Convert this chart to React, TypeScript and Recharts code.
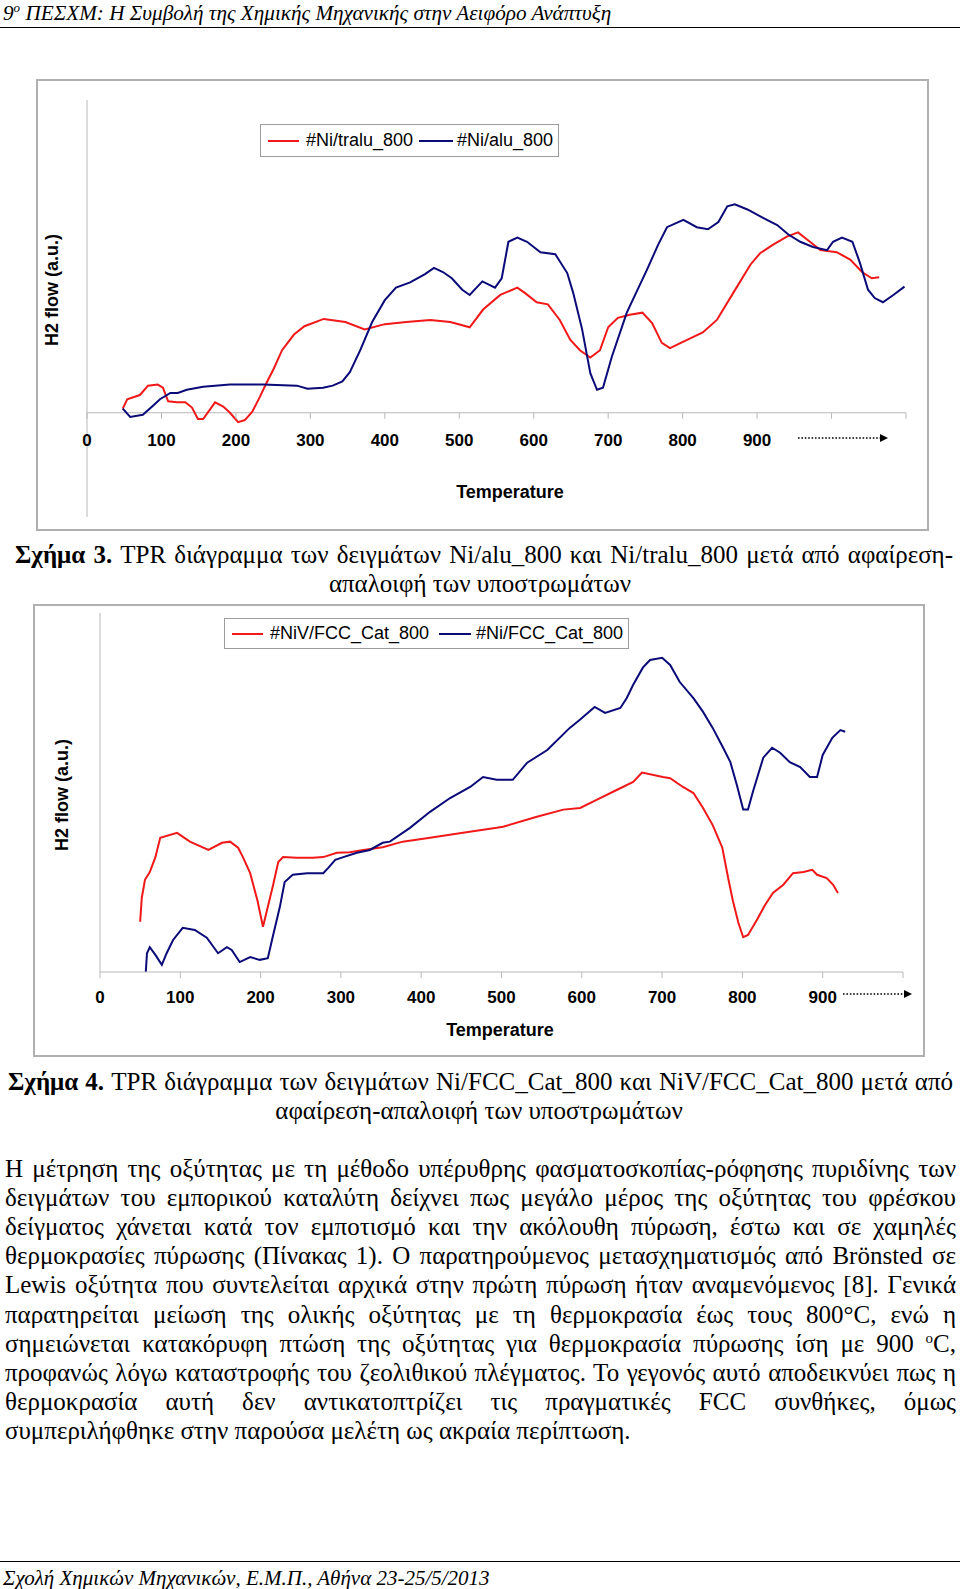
import React from 'react';
import { LineChart, Line, XAxis, YAxis, ReferenceLine } from 'recharts';

// ---------------- Figure 3 data ----------------
const fig3Names = ['#Ni/tralu_800', '#Ni/alu_800'];
const fig3XTicks = [0, 100, 200, 300, 400, 500, 600, 700, 800, 900, 1000, 1100];
const fig3XLabels = [0, 100, 200, 300, 400, 500, 600, 700, 800, 900];
const fig3YTicks = [-1, 0, 1, 2, 3];

const niTralu800 = [
  { t: 48, v: 0.04 }, { t: 54, v: 0.13 }, { t: 71, v: 0.17 }, { t: 82, v: 0.26 }, { t: 95, v: 0.27 },
  { t: 102, v: 0.24 }, { t: 109, v: 0.11 }, { t: 121, v: 0.1 }, { t: 132, v: 0.1 }, { t: 141, v: 0.05 },
  { t: 149, v: -0.06 }, { t: 156, v: -0.06 }, { t: 172, v: 0.1 }, { t: 183, v: 0.06 }, { t: 192, v: 0.0 },
  { t: 203, v: -0.09 }, { t: 212, v: -0.07 }, { t: 222, v: 0.01 }, { t: 232, v: 0.15 }, { t: 242, v: 0.3 },
  { t: 250, v: 0.41 }, { t: 262, v: 0.6 }, { t: 278, v: 0.75 }, { t: 292, v: 0.83 }, { t: 318, v: 0.9 },
  { t: 347, v: 0.87 }, { t: 373, v: 0.8 }, { t: 400, v: 0.85 }, { t: 429, v: 0.87 }, { t: 461, v: 0.89 },
  { t: 488, v: 0.87 }, { t: 514, v: 0.82 }, { t: 532, v: 0.99 }, { t: 555, v: 1.13 }, { t: 578, v: 1.2 },
  { t: 588, v: 1.15 }, { t: 604, v: 1.06 }, { t: 619, v: 1.04 }, { t: 635, v: 0.89 }, { t: 649, v: 0.7 },
  { t: 662, v: 0.6 }, { t: 676, v: 0.53 }, { t: 689, v: 0.6 }, { t: 700, v: 0.82 }, { t: 713, v: 0.91 },
  { t: 729, v: 0.94 }, { t: 746, v: 0.96 }, { t: 759, v: 0.86 }, { t: 772, v: 0.67 }, { t: 783, v: 0.62 },
  { t: 806, v: 0.7 }, { t: 827, v: 0.77 }, { t: 846, v: 0.89 }, { t: 868, v: 1.15 }, { t: 891, v: 1.42 },
  { t: 904, v: 1.53 }, { t: 921, v: 1.61 }, { t: 940, v: 1.69 }, { t: 955, v: 1.73 }, { t: 971, v: 1.64 },
  { t: 985, v: 1.56 }, { t: 1007, v: 1.54 }, { t: 1025, v: 1.47 }, { t: 1041, v: 1.35 }, { t: 1054, v: 1.29 },
  { t: 1064, v: 1.3 },
];

const niAlu800 = [
  { t: 48, v: 0.04 }, { t: 58, v: -0.04 }, { t: 75, v: -0.02 }, { t: 89, v: 0.07 }, { t: 98, v: 0.13 },
  { t: 112, v: 0.19 }, { t: 122, v: 0.19 }, { t: 134, v: 0.22 }, { t: 156, v: 0.25 }, { t: 192, v: 0.27 },
  { t: 236, v: 0.27 }, { t: 282, v: 0.26 }, { t: 296, v: 0.23 }, { t: 317, v: 0.24 }, { t: 330, v: 0.26 },
  { t: 343, v: 0.3 }, { t: 353, v: 0.39 }, { t: 367, v: 0.6 }, { t: 383, v: 0.87 }, { t: 400, v: 1.08 },
  { t: 415, v: 1.2 }, { t: 434, v: 1.25 }, { t: 454, v: 1.33 }, { t: 466, v: 1.39 }, { t: 478, v: 1.35 },
  { t: 490, v: 1.29 }, { t: 504, v: 1.18 }, { t: 514, v: 1.13 }, { t: 531, v: 1.26 }, { t: 548, v: 1.2 },
  { t: 557, v: 1.29 }, { t: 566, v: 1.64 }, { t: 578, v: 1.68 }, { t: 591, v: 1.64 }, { t: 609, v: 1.54 },
  { t: 629, v: 1.52 }, { t: 645, v: 1.34 }, { t: 653, v: 1.15 }, { t: 665, v: 0.8 }, { t: 676, v: 0.38 },
  { t: 685, v: 0.22 }, { t: 693, v: 0.24 }, { t: 705, v: 0.54 }, { t: 725, v: 0.96 }, { t: 752, v: 1.37 },
  { t: 767, v: 1.61 }, { t: 779, v: 1.78 }, { t: 801, v: 1.85 }, { t: 819, v: 1.78 }, { t: 834, v: 1.76 },
  { t: 848, v: 1.83 }, { t: 860, v: 1.98 }, { t: 870, v: 2.0 }, { t: 887, v: 1.95 }, { t: 908, v: 1.87 },
  { t: 927, v: 1.8 }, { t: 942, v: 1.71 }, { t: 958, v: 1.64 }, { t: 975, v: 1.59 }, { t: 994, v: 1.56 },
  { t: 1002, v: 1.64 }, { t: 1014, v: 1.68 }, { t: 1028, v: 1.64 }, { t: 1038, v: 1.44 }, { t: 1049, v: 1.18 },
  { t: 1058, v: 1.1 }, { t: 1069, v: 1.06 }, { t: 1083, v: 1.13 }, { t: 1098, v: 1.21 },
];

// ---------------- Figure 4 data ----------------
const fig4Names = ['#NiV/FCC_Cat_800', '#Ni/FCC_Cat_800'];
const fig4XTicks = [0, 100, 200, 300, 400, 500, 600, 700, 800, 900, 1000];
const fig4XLabels = [0, 100, 200, 300, 400, 500, 600, 700, 800, 900];
const fig4YTicks = [0, 1, 2, 3, 4, 5, 6];

const niVFcc800 = [
  { t: 50, v: 0.91 }, { t: 52, v: 1.34 }, { t: 56, v: 1.67 }, { t: 62, v: 1.81 }, { t: 69, v: 2.08 },
  { t: 75, v: 2.43 }, { t: 96, v: 2.52 }, { t: 112, v: 2.36 }, { t: 135, v: 2.21 }, { t: 152, v: 2.34 },
  { t: 162, v: 2.36 }, { t: 172, v: 2.25 }, { t: 178, v: 2.08 }, { t: 187, v: 1.79 }, { t: 196, v: 1.3 },
  { t: 203, v: 0.82 }, { t: 209, v: 1.18 }, { t: 215, v: 1.54 }, { t: 222, v: 1.99 }, { t: 228, v: 2.08 },
  { t: 245, v: 2.07 }, { t: 265, v: 2.07 }, { t: 278, v: 2.08 }, { t: 295, v: 2.16 }, { t: 311, v: 2.17 },
  { t: 328, v: 2.21 }, { t: 352, v: 2.26 }, { t: 377, v: 2.36 }, { t: 411, v: 2.43 }, { t: 452, v: 2.52 },
  { t: 494, v: 2.61 }, { t: 502, v: 2.63 }, { t: 544, v: 2.81 }, { t: 577, v: 2.94 }, { t: 598, v: 2.97 },
  { t: 619, v: 3.12 }, { t: 644, v: 3.3 }, { t: 664, v: 3.44 }, { t: 675, v: 3.61 }, { t: 701, v: 3.53 },
  { t: 710, v: 3.51 }, { t: 726, v: 3.35 }, { t: 739, v: 3.24 }, { t: 751, v: 2.97 }, { t: 763, v: 2.66 },
  { t: 775, v: 2.25 }, { t: 782, v: 1.72 }, { t: 788, v: 1.3 }, { t: 795, v: 0.89 }, { t: 801, v: 0.63 },
  { t: 807, v: 0.67 }, { t: 818, v: 0.94 }, { t: 828, v: 1.21 }, { t: 838, v: 1.43 }, { t: 851, v: 1.58 },
  { t: 863, v: 1.79 }, { t: 876, v: 1.81 }, { t: 887, v: 1.85 }, { t: 893, v: 1.76 }, { t: 905, v: 1.7 },
  { t: 913, v: 1.58 }, { t: 919, v: 1.43 },
];

const niFcc800 = [
  { t: 57, v: 0.0 }, { t: 58.5, v: 0.34 }, { t: 62, v: 0.45 }, { t: 69, v: 0.31 }, { t: 77, v: 0.13 },
  { t: 83, v: 0.34 }, { t: 91, v: 0.58 }, { t: 103, v: 0.8 }, { t: 118, v: 0.76 }, { t: 133, v: 0.62 },
  { t: 147, v: 0.34 }, { t: 158, v: 0.45 }, { t: 164, v: 0.4 }, { t: 174, v: 0.18 }, { t: 187, v: 0.27 },
  { t: 199, v: 0.22 }, { t: 209, v: 0.25 }, { t: 215, v: 0.63 }, { t: 224, v: 1.18 }, { t: 230, v: 1.63 },
  { t: 240, v: 1.76 }, { t: 258, v: 1.79 }, { t: 278, v: 1.79 }, { t: 284, v: 1.88 }, { t: 293, v: 2.03 },
  { t: 303, v: 2.08 }, { t: 320, v: 2.16 }, { t: 336, v: 2.21 }, { t: 352, v: 2.34 }, { t: 361, v: 2.36 },
  { t: 386, v: 2.61 }, { t: 411, v: 2.9 }, { t: 436, v: 3.15 }, { t: 461, v: 3.35 }, { t: 477, v: 3.53 },
  { t: 494, v: 3.48 }, { t: 514, v: 3.48 }, { t: 532, v: 3.79 }, { t: 557, v: 4.02 }, { t: 585, v: 4.42 },
  { t: 598, v: 4.57 }, { t: 616, v: 4.8 }, { t: 629, v: 4.69 }, { t: 648, v: 4.78 }, { t: 656, v: 4.96 },
  { t: 664, v: 5.2 }, { t: 676, v: 5.51 }, { t: 685, v: 5.65 }, { t: 700, v: 5.69 }, { t: 710, v: 5.56 },
  { t: 722, v: 5.25 }, { t: 739, v: 4.96 }, { t: 751, v: 4.71 }, { t: 763, v: 4.42 }, { t: 776, v: 4.06 },
  { t: 785, v: 3.8 }, { t: 793, v: 3.39 }, { t: 801, v: 2.94 }, { t: 807, v: 2.94 }, { t: 813, v: 3.26 },
  { t: 826, v: 3.88 }, { t: 837, v: 4.06 }, { t: 847, v: 3.97 }, { t: 859, v: 3.8 }, { t: 872, v: 3.71 },
  { t: 884, v: 3.53 }, { t: 893, v: 3.53 }, { t: 900, v: 3.93 }, { t: 912, v: 4.24 }, { t: 922, v: 4.38 },
  { t: 928, v: 4.35 },
];

// ---------------- Text ----------------
const headerText = ' ΠΕΣΧΜ: Η Συμβολή της Χημικής Μηχανικής στην Αειφόρο Ανάπτυξη';
const footerText = 'Σχολή Χημικών Μηχανικών, Ε.Μ.Π., Αθήνα 23-25/5/2013';
const cap3Line1 = ' TPR διάγραμμα των δειγμάτων Ni/alu_800 και Ni/tralu_800 μετά από αφαίρεση-';
const cap3Line2 = 'απαλοιφή των υποστρωμάτων';
const cap4Line1 = ' TPR διάγραμμα των δειγμάτων Ni/FCC_Cat_800 και NiV/FCC_Cat_800 μετά από';
const cap4Line2 = 'αφαίρεση-απαλοιφή των υποστρωμάτων';
const bodyLines = [
  'Η μέτρηση της οξύτητας με τη μέθοδο υπέρυθρης φασματοσκοπίας-ρόφησης πυριδίνης των',
  'δειγμάτων του εμπορικού καταλύτη δείχνει πως μεγάλο μέρος της οξύτητας του φρέσκου',
  'δείγματος χάνεται κατά τον εμποτισμό και την ακόλουθη πύρωση, έστω και σε χαμηλές',
  'θερμοκρασίες πύρωσης (Πίνακας 1). Ο παρατηρούμενος μετασχηματισμός από Brönsted σε',
  'Lewis οξύτητα που συντελείται αρχικά στην πρώτη πύρωση ήταν αναμενόμενος [8]. Γενικά',
  'παρατηρείται μείωση της ολικής οξύτητας με τη θερμοκρασία έως τους 800°C, ενώ η',
  'σημειώνεται κατακόρυφη πτώση της οξύτητας για θερμοκρασία πύρωσης ίση με 900 ^oC,',
  'προφανώς λόγω καταστροφής του ζεολιθικού πλέγματος. Το γεγονός αυτό αποδεικνύει πως η',
  'θερμοκρασία αυτή δεν αντικατοπτρίζει τις πραγματικές FCC συνθήκες, όμως',
  'συμπεριλήφθηκε στην παρούσα μελέτη ως ακραία περίπτωση.',
];

// ---------------- Styles ----------------
const RED = '#f01818';
const NAVY = '#0a0a78';
const AXIS = '#b8b8b8';
const FRAME = '#b0b0b0';
const SANS = '"Liberation Sans", Arial, sans-serif';
const SERIF = '"Liberation Serif", "Times New Roman", serif';

// Figure 3 chart geometry
const F3_W = 960, F3_H = 560;
const F3_M = { top: 100, left: 67, right: 54, bottom: 13 };
const F3_XH = 30, F3_YW = 20;
const F3_YMIN = -1, F3_YMAX = 3;
const F3_PLOT_H = F3_H - F3_M.top - F3_M.bottom - F3_XH;
const F3_AXIS_Y = F3_M.top + (F3_PLOT_H * (F3_YMAX - 0)) / (F3_YMAX - F3_YMIN);

// Figure 4 chart geometry
const F4_TOP = 560;
const F4_W = 960, F4_H = 500;
const F4_M = { top: 53, left: 80, right: 57, bottom: 28 };
const F4_XH = 60, F4_YW = 20;
const F4_AXIS_Y = F4_H - F4_M.bottom - F4_XH;

function Fig3Tick(props: any) {
  const { x, payload } = props;
  const v = payload.value;
  return (
    <g>
      <line x1={x} x2={x} y1={F3_AXIS_Y} y2={F3_AXIS_Y + 6} stroke={AXIS} strokeWidth={1} />
      {fig3XLabels.includes(v) && (
        <text x={x} y={F3_AXIS_Y + 28} textAnchor="middle" dominantBaseline="central"
          fontFamily={SANS} fontWeight="bold" fontSize={17} fill="#000">{v}</text>
      )}
    </g>
  );
}

function Fig4Tick(props: any) {
  const { x, payload } = props;
  const v = payload.value;
  if (!fig4XLabels.includes(v)) return <g />;
  return (
    <text x={x} y={F4_AXIS_Y + 25} textAnchor="middle" dominantBaseline="central"
      fontFamily={SANS} fontWeight="bold" fontSize={17} fill="#000">{v}</text>
  );
}

function LegendBox(props: { left: number; top: number; width: number; height: number; items: { name: string; color: string; segX: number; segW: number; textX: number }[] }) {
  const { left, top, width, height, items } = props;
  return (
    <div style={{ position: 'absolute', left, top, width, height, border: '1px solid #9c9c9c', boxSizing: 'border-box', background: '#fff' }}>
      {items.map((it) => (
        <React.Fragment key={it.name}>
          <div style={{ position: 'absolute', left: it.segX - left, top: height / 2 - 2, width: it.segW, height: 2, background: it.color }} />
          <div style={{ position: 'absolute', left: it.textX - left, top: 0, height: height - 2, lineHeight: `${height - 2}px`, fontFamily: SANS, fontSize: 18, color: '#000', whiteSpace: 'nowrap' }}>{it.name}</div>
        </React.Fragment>
      ))}
    </div>
  );
}

function Arrow(props: { x1: number; x2: number; y: number }) {
  const { x1, x2, y } = props;
  return (
    <g>
      <line x1={x1} x2={x2 - 6} y1={y} y2={y} stroke="#000" strokeWidth={1.6} strokeDasharray="1.6 1.8" />
      <polygon points={`${x2},${y} ${x2 - 8},${y - 4} ${x2 - 8},${y + 4}`} fill="#000" />
    </g>
  );
}

function JLine(props: { left: number; width: number; centerY: number; size: number; justify?: boolean; center?: boolean; children: React.ReactNode }) {
  const { left, width, centerY, size, justify, center, children } = props;
  const lh = 28;
  return (
    <div style={{
      position: 'absolute', left, width, top: centerY - lh / 2, height: lh, lineHeight: `${lh}px`,
      fontFamily: SERIF, fontSize: size, color: '#000', whiteSpace: 'nowrap',
      textAlign: center ? 'center' : justify ? 'justify' : 'left',
      textAlignLast: center ? 'center' : justify ? 'justify' : 'left',
    } as React.CSSProperties}>{children}</div>
  );
}

function renderBody(line: string) {
  if (line.includes('^o')) {
    const [a, b] = line.split('^o');
    return (<>{a}<span style={{ fontSize: 15, position: 'relative', top: -9 }}>o</span>{b}</>);
  }
  return line;
}

export default function App() {
  const BODY_SIZE = 25;
  const CAP_SIZE = 25;
  return (
    <div style={{ position: 'absolute', left: 0, top: 0, width: 960, height: 1589, background: '#fff', overflow: 'hidden' }}>
      {/* Header */}
      <div style={{ position: 'absolute', left: 3, top: 0, height: 26, lineHeight: '26px', fontFamily: SERIF, fontStyle: 'italic', fontSize: 21.2, whiteSpace: 'nowrap' }}>
        9<span style={{ fontSize: 13, position: 'relative', top: -8 }}>ο</span>{headerText}
      </div>
      <div style={{ position: 'absolute', left: 0, top: 27, width: 960, height: 0, borderTop: '1.5px solid #000' }} />

      {/* Figure 3 frame */}
      <div style={{ position: 'absolute', left: 36, top: 79, width: 893, height: 452, border: `2px solid ${FRAME}`, boxSizing: 'border-box' }} />
      <div style={{ position: 'absolute', left: 0, top: 0 }}>
        <LineChart width={F3_W} height={F3_H} margin={F3_M}>
          <XAxis type="number" dataKey="t" domain={[0, 1100]} ticks={fig3XTicks} interval={0}
            axisLine={false} tickLine={false} tick={Fig3Tick} height={F3_XH} allowDataOverflow />
          <YAxis type="number" domain={[F3_YMIN, F3_YMAX]} ticks={fig3YTicks} interval={0} tick={false}
            tickSize={4} width={F3_YW} axisLine={{ stroke: AXIS }} tickLine={{ stroke: AXIS }} />
          <ReferenceLine y={0} stroke={AXIS} strokeWidth={1.2} />
          <Line data={niTralu800} dataKey="v" name={fig3Names[0]} type="linear" stroke={RED} strokeWidth={2} dot={false} isAnimationActive={false} />
          <Line data={niAlu800} dataKey="v" name={fig3Names[1]} type="linear" stroke={NAVY} strokeWidth={2} dot={false} isAnimationActive={false} />
        </LineChart>
      </div>
      <LegendBox left={260} top={124} width={299} height={33} items={[
        { name: fig3Names[0], color: RED, segX: 267, segW: 31, textX: 305 },
        { name: fig3Names[1], color: NAVY, segX: 418, segW: 34, textX: 456 },
      ]} />

      {/* Figure 4 frame */}
      <div style={{ position: 'absolute', left: 33, top: 604, width: 892, height: 453, border: `2px solid ${FRAME}`, boxSizing: 'border-box' }} />
      <div style={{ position: 'absolute', left: 0, top: F4_TOP }}>
        <LineChart width={F4_W} height={F4_H} margin={F4_M}>
          <XAxis type="number" dataKey="t" domain={[0, 1000]} ticks={fig4XTicks} interval={0}
            axisLine={{ stroke: AXIS, strokeWidth: 1.2 }} tickLine={{ stroke: AXIS }} tickSize={6} tick={Fig4Tick} height={F4_XH} allowDataOverflow />
          <YAxis type="number" domain={[0, 6.5]} ticks={fig4YTicks} interval={0} tick={false}
            tickSize={4} width={F4_YW} axisLine={{ stroke: AXIS }} tickLine={{ stroke: AXIS }} allowDataOverflow />
          <Line data={niVFcc800} dataKey="v" name={fig4Names[0]} type="linear" stroke={RED} strokeWidth={2} dot={false} isAnimationActive={false} />
          <Line data={niFcc800} dataKey="v" name={fig4Names[1]} type="linear" stroke={NAVY} strokeWidth={2} dot={false} isAnimationActive={false} />
        </LineChart>
      </div>
      <LegendBox left={224} top={618} width={405} height={31} items={[
        { name: fig4Names[0], color: RED, segX: 231, segW: 31, textX: 269 },
        { name: fig4Names[1], color: NAVY, segX: 438, segW: 32, textX: 475 },
      ]} />

      {/* Overlay: axis titles and arrows */}
      <svg width={960} height={1589} style={{ position: 'absolute', left: 0, top: 0, pointerEvents: 'none' }}>
        <text x={510} y={492} textAnchor="middle" dominantBaseline="central" fontFamily={SANS} fontWeight="bold" fontSize={18}>Temperature</text>
        <text transform="translate(52,290) rotate(-90)" textAnchor="middle" dominantBaseline="central" fontFamily={SANS} fontWeight="bold" fontSize={18}>H2 flow (a.u.)</text>
        <Arrow x1={798} x2={888} y={438} />
        <text x={500} y={1030} textAnchor="middle" dominantBaseline="central" fontFamily={SANS} fontWeight="bold" fontSize={18}>Temperature</text>
        <text transform="translate(62,795) rotate(-90)" textAnchor="middle" dominantBaseline="central" fontFamily={SANS} fontWeight="bold" fontSize={18}>H2 flow (a.u.)</text>
        <Arrow x1={843} x2={912} y={994} />
      </svg>

      {/* Captions */}
      <JLine left={15} width={938} centerY={555} size={CAP_SIZE} justify><b>Σχήμα 3.</b>{cap3Line1}</JLine>
      <JLine left={0} width={960} centerY={584} size={CAP_SIZE} center>{cap3Line2}</JLine>
      <JLine left={8} width={945} centerY={1082} size={CAP_SIZE} justify><b>Σχήμα 4.</b>{cap4Line1}</JLine>
      <JLine left={0} width={958} centerY={1111} size={CAP_SIZE} center>{cap4Line2}</JLine>

      {/* Body text */}
      {bodyLines.map((ln, i) => (
        <JLine key={i} left={5} width={951} centerY={1169 + i * 29.1} size={BODY_SIZE} justify={i < bodyLines.length - 1}>{renderBody(ln)}</JLine>
      ))}

      {/* Footer */}
      <div style={{ position: 'absolute', left: 0, top: 1561, width: 960, height: 0, borderTop: '1.5px solid #000' }} />
      <div style={{ position: 'absolute', left: 3, top: 1565, height: 26, lineHeight: '26px', fontFamily: SERIF, fontStyle: 'italic', fontSize: 21, whiteSpace: 'nowrap' }}>{footerText}</div>
    </div>
  );
}
